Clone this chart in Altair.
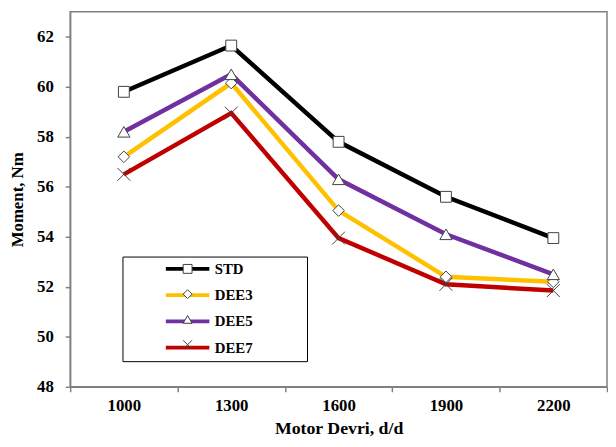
import altair as alt
import pandas as pd

rpm = [1000, 1300, 1600, 1900, 2200]
series_names = ["STD", "DEE3", "DEE5", "DEE7"]
std = [59.8, 61.65, 57.8, 55.6, 53.95]
dee3 = [57.2, 60.15, 55.05, 52.4, 52.2]
dee5 = [58.2, 60.5, 56.3, 54.1, 52.5]
dee7 = [56.5, 58.95, 53.95, 52.1, 51.85]
y_ticks = [48, 50, 52, 54, 56, 58, 60, 62]

colors = ["#000000", "#FFC000", "#7030A0", "#C00000"]
marker_stroke = ["#404040", "#404040", "#404040", "#404040"]
shapes = ["square", "diamond", "triangle-up", "M-1,-1L1,1M-1,1L1,-1"]
sizes = [121, 169, 256, 289]

rows = []
for name, vals in zip(series_names, [std, dee3, dee5, dee7]):
    for r, v in zip(rpm, vals):
        rows.append({"rpm": r, "moment": v, "Seri": name, "Seri2": name})
df = pd.DataFrame(rows)

FONT = "Liberation Serif"
GRAY = "#808080"

x_axis = alt.Axis(labelAngle=0, tickBand="extent", tickSize=5, tickColor=GRAY,
                  domainColor=GRAY, domainWidth=1.5, tickWidth=1.5, grid=False,
                  labelFont=FONT, labelFontSize=17, labelFontWeight="bold",
                  labelColor="black", labelPadding=6,
                  titleFont=FONT, titleFontSize=18, titleFontWeight="bold",
                  titleColor="black", titlePadding=6)
y_axis = alt.Axis(values=y_ticks, grid=False, tickSize=5, tickColor=GRAY,
                  domainColor=GRAY, domainWidth=1.5, tickWidth=1.5,
                  labelFont=FONT, labelFontSize=17, labelFontWeight="bold",
                  labelColor="black", labelPadding=12,
                  titleFont=FONT, titleFontSize=17, titleFontWeight="bold",
                  titleColor="black", titlePadding=10)

x = alt.X("rpm:O", title="Motor Devri, d/d",
          scale=alt.Scale(type="band", paddingInner=0, paddingOuter=0),
          axis=x_axis)
y = alt.Y("moment:Q", title="Moment, Nm",
          scale=alt.Scale(domain=[48, 63], nice=False, zero=False),
          axis=y_axis)

base = alt.Chart(df)

lines = base.mark_line(strokeWidth=4.5).encode(
    x=x, y=y,
    color=alt.Color("Seri:N", sort=series_names,
                    scale=alt.Scale(range=colors),
                    legend=alt.Legend(orient="none", legendX=53, legendY=248,
                                      title=None, padding=5,
                                      strokeColor="black",
                                      symbolType="M-4.9,0L4.9,0M23.8,0",
                                      symbolSize=81,
                                      symbolStrokeWidth=4, symbolOffset=53.5,
                                      labelOffset=20, labelFont=FONT,
                                      labelFontSize=15, labelFontWeight="bold",
                                      labelColor="black", rowPadding=9.6,
                                      zindex=0)),
)

marker_legend = dict(orient="none", legendX=53, legendY=248,
                     title=None, padding=5,
                     symbolSize=81, symbolStrokeWidth=1,
                     symbolFillColor="white",
                     symbolOffset=53.5, labelOffset=20,
                     labelFont=FONT, labelFontSize=15,
                     labelFontWeight="bold", labelOpacity=0,
                     rowPadding=9.6, zindex=2)

points = base.mark_point(filled=False, fill="white",
                         strokeWidth=1, opacity=1).encode(
    x=x, y=y,
    shape=alt.Shape("Seri2:N",
                    scale=alt.Scale(domain=series_names, range=shapes),
                    legend=alt.Legend(**marker_legend)),
    stroke=alt.Stroke("Seri2:N",
                      scale=alt.Scale(domain=series_names, range=marker_stroke),
                      legend=alt.Legend(**marker_legend)),
    size=alt.Size("Seri:N", sort=series_names,
                  scale=alt.Scale(range=sizes),
                  legend=None),
)

chart = alt.layer(lines, points).properties(
    width=544, height=380,
    padding={"left": 63, "top": 1, "right": 1, "bottom": 50},
    autosize=alt.AutoSizeParams(type="none"),
).configure_view(stroke=GRAY, strokeWidth=1.5)

chart.save("out.html", embed_options={"renderer": "svg", "actions": False})
